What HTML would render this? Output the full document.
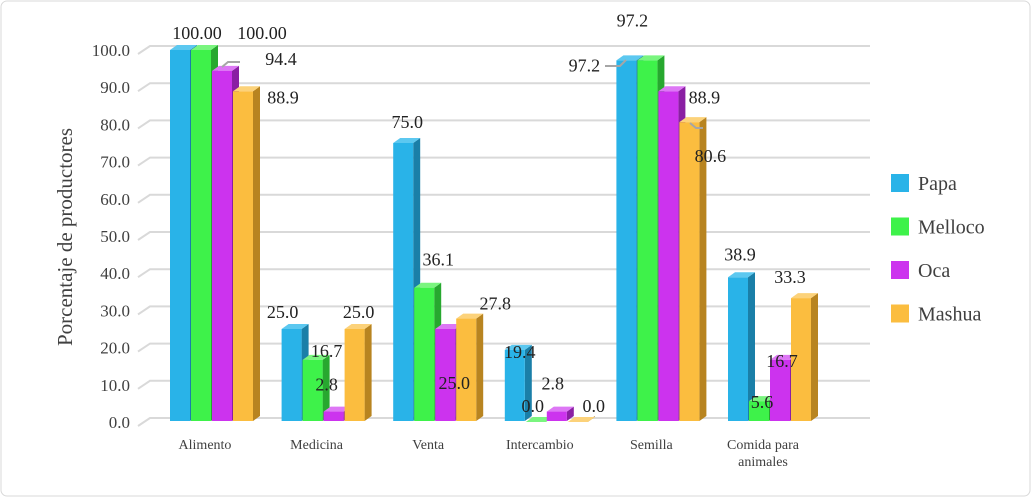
<!DOCTYPE html>
<html><head><meta charset="utf-8"><style>
html,body{margin:0;padding:0;background:#fff;}
svg{display:block;}
svg text{font-family:"Liberation Serif","DejaVu Serif",serif;}
</style></head><body>
<svg id="c" width="1031" height="497" font-family="Liberation Serif, serif">
<rect x="1" y="1" width="1029" height="495" rx="6" fill="#fff" stroke="#d9d9d9"/>
<text transform="translate(72,237) rotate(-90)" text-anchor="middle" font-size="21" fill="#404040">Porcentaje de productores</text>
<g id="grid"></g><g id="bars"></g><g id="labels"></g><g id="legend"></g>
</svg>
<script>
const categories=["Alimento","Medicina","Venta","Intercambio","Semilla","Comida para|animales"];
const seriesNames=["Papa","Melloco","Oca","Mashua"];
const papa=[100.00,25.0,75.0,19.4,97.2,38.9];
const melloco=[100.00,16.7,36.1,0.0,97.2,5.6];
const oca=[94.4,2.8,25.0,2.8,88.9,16.7];
const mashua=[88.9,25.0,27.8,0.0,80.6,33.3];
const valueLabels=[["100.00","25.0","75.0","19.4","97.2","38.9"],["100.00","16.7","36.1","0.0","97.2","5.6"],["94.4","2.8","25.0","2.8","88.9","16.7"],["88.9","25.0","27.8","0.0","80.6","33.3"]];
const ticks=[0,10,20,30,40,50,60,70,80,90,100];
const series=[papa,melloco,oca,mashua];
const colors=[["#29b3e8","#1a7fa8","#5cc8f0"],["#3ef24a","#27a82f","#7af57f"],["#cc33ee","#8a1fa3","#dd77f5"],["#fbbd3f","#b88420","#fcd27a"]];
const NS="http://www.w3.org/2000/svg";
function y(v){return 422-v*3.72;}
function cx(i){return 205+i*111.6;}
function mk(tag,attrs,parent,text){const e=document.createElementNS(NS,tag);for(const k in attrs)e.setAttribute(k,attrs[k]);if(text!==undefined)e.textContent=text;parent.appendChild(e);return e;}
const grid=document.getElementById('grid'),bars=document.getElementById('bars'),labels=document.getElementById('labels'),legend=document.getElementById('legend');
ticks.forEach(t=>{
 const l=mk('polyline',{points:`${138},${y(t)+4} ${150},${y(t)-4} ${870},${y(t)-4}`,fill:'none',stroke:'#d9d9d9','stroke-width':2},grid);
 
 
 const tx=mk('text',{x:130,y:y(t)+6,'text-anchor':'end','font-size':17,fill:'#404040'},grid,t.toFixed(1));
 
 
});
categories.forEach((c,i)=>{
 const parts=c.split('|');
 parts.forEach((p,j)=>{
  const t=mk('text',{x:cx(i),y:449+j*17,'text-anchor':'middle','font-size':14,fill:'#404040'},labels,p);
  
  
 });
});
const W=20,D=7,H=5;
series.forEach((s,k)=>{
 s.forEach((v,i)=>{
  const x0=cx(i)-35+k*21, top=y(v), bot=421;
  const g=mk('g',{},bars);
  
  
  mk('polygon',{points:`${x0+W},${top} ${x0+W+D},${top-H} ${x0+W+D},${bot-H} ${x0+W},${bot}`,fill:colors[k][1]},g);
  mk('polygon',{points:`${x0},${top} ${x0+D},${top-H} ${x0+W+D},${top-H} ${x0+W},${top}`,fill:colors[k][2]},g);
  mk('rect',{x:x0,y:top,width:W,height:bot-top,fill:colors[k][0]},g);
 });
});
// label offsets [dx,dy] relative to bar centre / bar top, per series then category
const lblOffsets=[
 [[17,-11],[-9,-11],[4,-15],[5,8],[-42,11],[2,-17]],
 [[61,-11],[14,-3],[14,-22],[-3,-10],[-15,-34],[3,7]],
 [[59,-6],[-7,-21],[9,60],[-4,-22],[36,12],[2,7]],
 [[40,12],[4,-11],[29,-9],[16,-10],[21,40],[-11,-15]]];
series.forEach((s,k)=>{
 s.forEach((v,i)=>{
  const bc=cx(i)-35+k*21+10;
  const x0=bc+lblOffsets[k][i][0], yy=y(v)+lblOffsets[k][i][1];
  const t=mk('text',{x:x0,y:yy,'text-anchor':'middle','font-size':18,fill:'#222'},labels,valueLabels[k][i]);
  
  
 });
});
// leader lines
const lead=[[2,0,[[222,67],[228,62],[240,62]]],[0,4,[[605,66],[620,66],[626,60]]],[3,4,[[690,123],[696,128],[703,128]]]];
lead.forEach(L=>{
 const p=mk('polyline',{points:L[2].map(a=>a.join(',')).join(' '),fill:'none',stroke:'#a6a6a6','stroke-width':2},labels);
 
 
});
seriesNames.forEach((n,k)=>{
 const yy=183+k*43.5;
 const g=mk('g',{},legend);
 
 
 mk('rect',{x:891,y:yy-9,width:18,height:18,fill:colors[k][0]},g);
 mk('text',{x:918,y:yy+7,'font-size':20,fill:'#404040'},g,n);
});
</script>
</body></html>
